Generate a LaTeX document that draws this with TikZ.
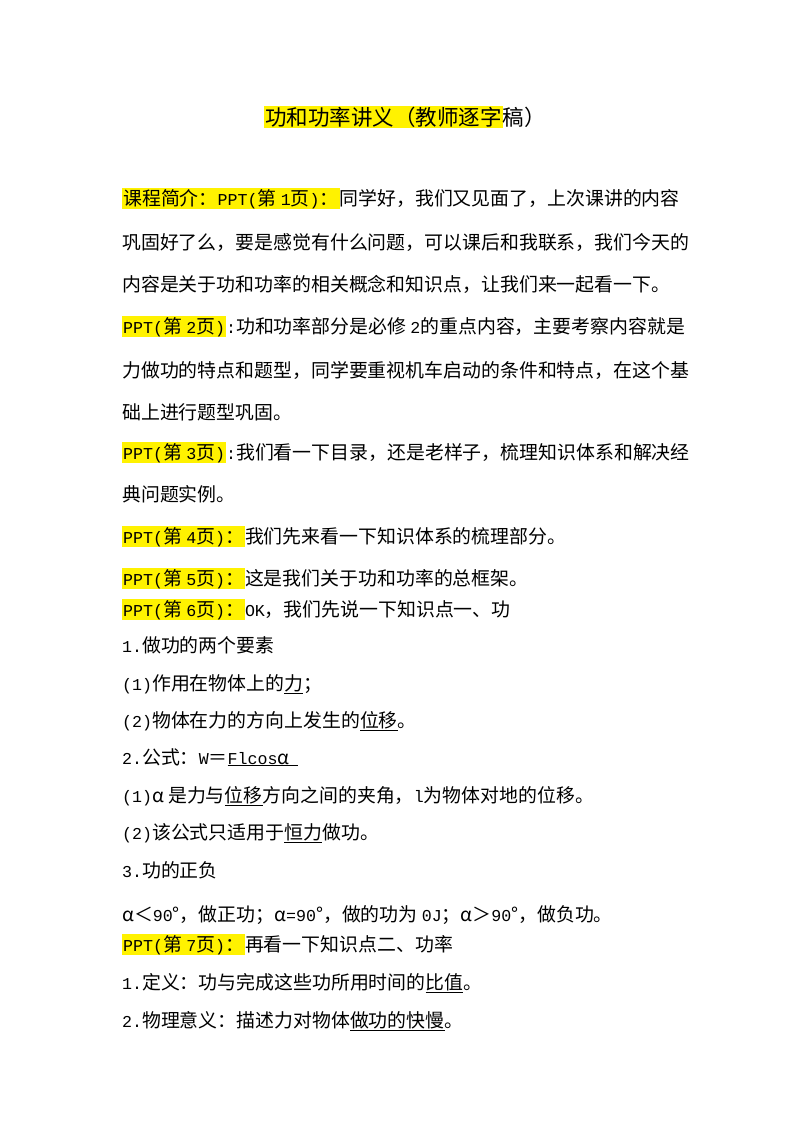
\documentclass[tikz,border=0pt]{standalone}
\usepackage{fontspec}
\setmainfont{Noto Sans CJK SC}
\newfontfamily\mono[Scale=0.88]{Liberation Mono}
\newcommand{\hlt}[1]{{\setlength{\fboxsep}{1pt}\colorbox{yellow}{#1}}}
\newcommand{\mm}[1]{{\mono #1}}
\begin{document}
\begin{tikzpicture}[x=1pt,y=-1pt,
  ln/.style={anchor=base west,inner sep=0pt,font=\fontsize{18.9}{22}\selectfont},
  tt/.style={anchor=base,inner sep=0pt,font=\fontsize{21.5}{24}\selectfont}]
\useasboundingbox[fill=white] (0,0) rectangle (800,1132);
\node[tt] (title) at (405,125) {\hlt{功和功率讲义（教师逐字}稿）};
\node[ln] (l1) at (122,205) {\hlt{课程简介：\mm{PPT(}第 \mm{1}页\mm{)}：}同学好，我们又见面了，上次课讲的内容};
\node[ln] (l2) at (122,249) {巩固好了么，要是感觉有什么问题，可以课后和我联系，我们今天的};
\node[ln] (l3) at (122,291) {内容是关于功和功率的相关概念和知识点，让我们来一起看一下。};
\node[ln] (l4) at (122,333) {\hlt{\mm{PPT(}第 \mm{2}页\mm{)}}\mm{:}功和功率部分是必修 \mm{2}的重点内容，主要考察内容就是};
\node[ln] (l5) at (122,377) {力做功的特点和题型，同学要重视机车启动的条件和特点，在这个基};
\node[ln] (l6) at (122,419) {础上进行题型巩固。};
\node[ln] (l7) at (122,459) {\hlt{\mm{PPT(}第 \mm{3}页\mm{)}}\mm{:}我们看一下目录，还是老样子，梳理知识体系和解决经};
\node[ln] (l8) at (122,501) {典问题实例。};
\node[ln] (l9) at (122,543) {\hlt{\mm{PPT(}第 \mm{4}页\mm{)}：}我们先来看一下知识体系的梳理部分。};
\node[ln] (l10) at (122,585) {\hlt{\mm{PPT(}第 \mm{5}页\mm{)}：}这是我们关于功和功率的总框架。};
\node[ln] (l11) at (122,616) {\hlt{\mm{PPT(}第 \mm{6}页\mm{)}：}\mm{OK}，我们先说一下知识点一、功};
\node[ln] (l12) at (122,652) {\mm{1.}做功的两个要素};
\node[ln] (l13) at (122,690) {\mm{(1)}作用在物体上的\underline{力}；};
\node[ln] (l14) at (122,727) {\mm{(2)}物体在力的方向上发生的\underline{位移}。};
\node[ln] (l15) at (122,764) {\mm{2.}公式：\mm{W}＝\underline{\mm{Flcos}α\ \ }};
\node[ln] (l16) at (122,802) {\mm{(1)}α 是力与\underline{位移}方向之间的夹角，\mm{l}为物体对地的位移。};
\node[ln] (l17) at (122,839) {\mm{(2)}该公式只适用于\underline{恒力}做功。};
\node[ln] (l18) at (122,877) {\mm{3.}功的正负};
\node[ln] (l19) at (122,921) {α＜\mm{90}°，做正功；α\mm{=90}°，做的功为 \mm{0J}；α＞\mm{90}°，做负功。};
\node[ln] (l20) at (122,951) {\hlt{\mm{PPT(}第 \mm{7}页\mm{)}：}再看一下知识点二、功率};
\node[ln] (l21) at (122,989) {\mm{1.}定义：功与完成这些功所用时间的\underline{比值}。};
\node[ln] (l22) at (122,1027) {\mm{2.}物理意义：描述力对物体\underline{做功的快慢}。};
\end{tikzpicture}
\end{document}
